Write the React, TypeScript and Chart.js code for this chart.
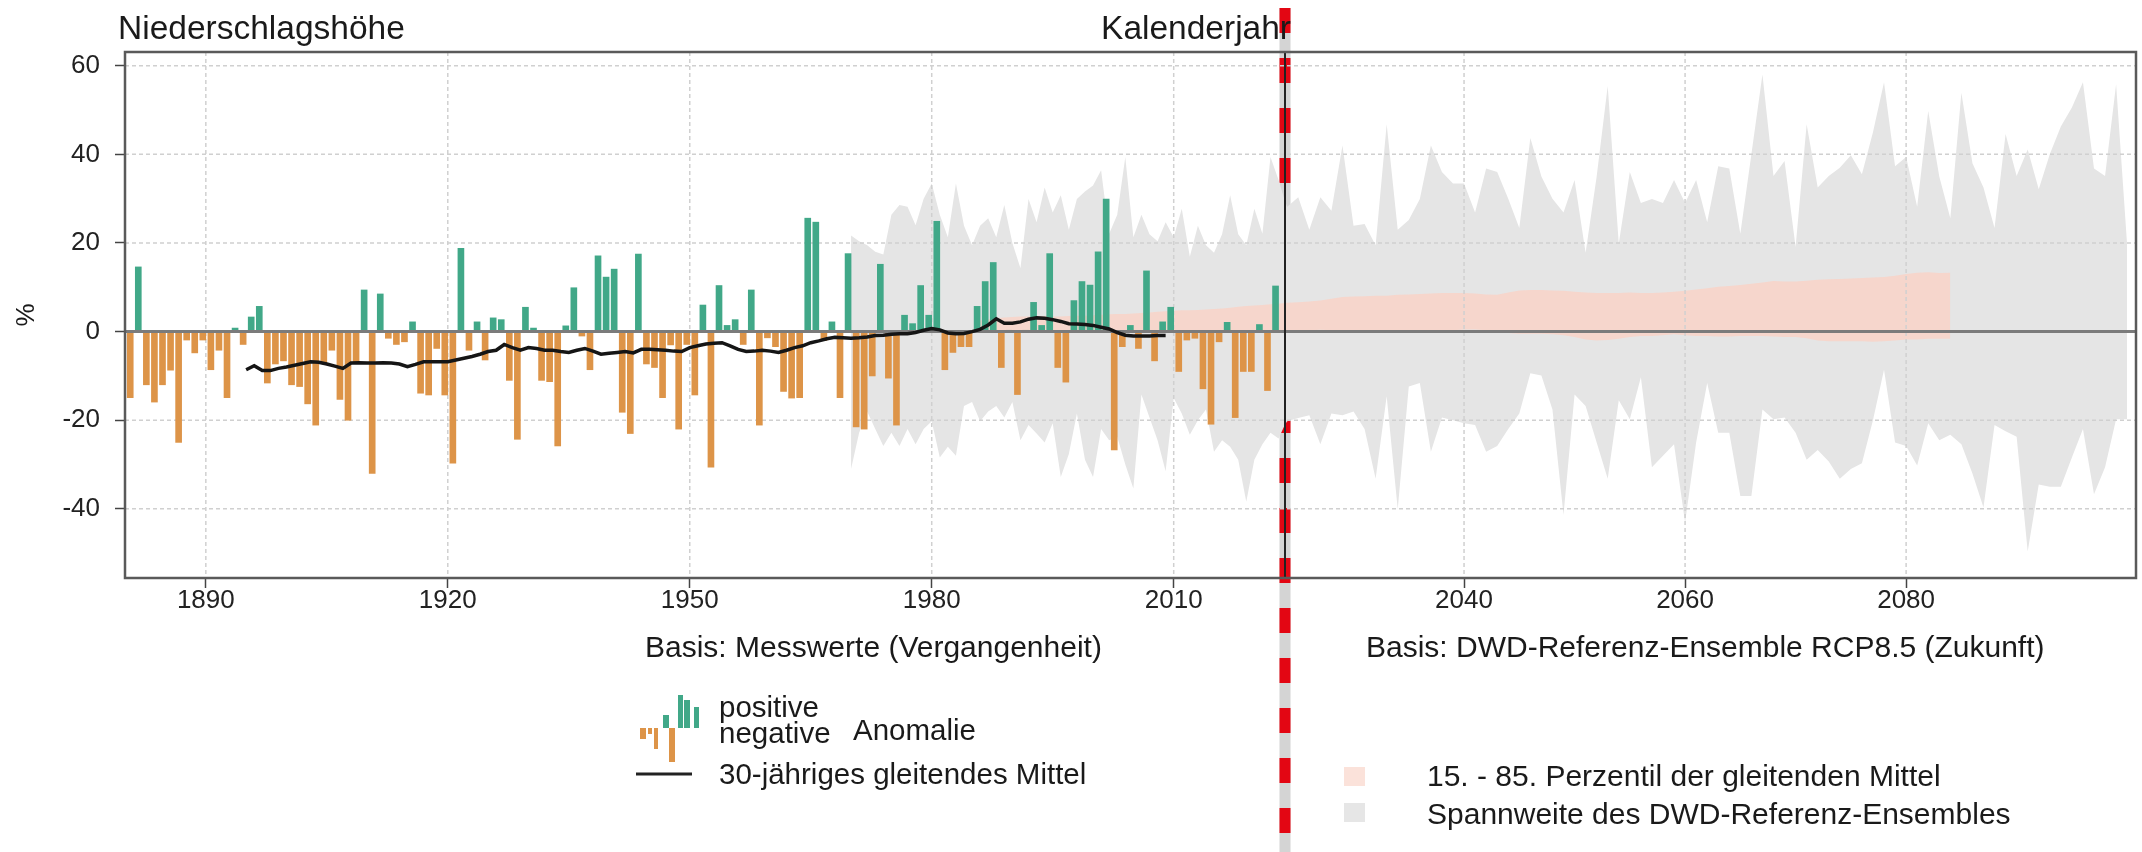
import React, { useEffect, useRef } from 'react';
import { Chart, registerables } from 'chart.js';

Chart.register(...registerables);

const FONT = '"Liberation Sans", Arial, Helvetica, sans-serif';

// ---------- data ----------
const barStartYear = 1881;
const barValues = [
  -14.9, 14.6, -12.0, -15.9, -12.0, -8.7, -25.0, -1.9, -4.8, // 1881-1889
  -1.9, -8.6, -4.2, -14.9, 0.8, -2.9, 3.3, 5.7, -11.6, -7.3, // 1890-1899
  -6.6, -12.0, -12.4, -16.3, -21.1, -7.0, -4.2, -15.3, -20.0, -7.0, // 1900-1909
  9.4, -32.0, 8.5, -1.5, -2.9, -2.3, 2.2, -13.9, -14.3, -3.8, // 1910-1919
  -14.3, -29.7, 18.8, -4.2, 2.2, -6.4, 3.1, 2.7, -11.0, -24.3, // 1920-1929
  5.5, 0.8, -11.0, -11.3, -25.8, 1.3, 9.9, -1.0, -8.6, 17.1, // 1930-1939
  12.3, 14.1, -18.2, -23.0, 17.5, -7.3, -8.1, -14.9, -3.0, -22.0, // 1940-1949
  -2.9, -14.3, 6.0, -30.6, 10.4, 1.4, 2.7, -2.9, 9.4, -21.1, // 1950-1959
  -1.4, -3.4, -13.5, -15.0, -14.9, 25.6, 24.7, -2.0, 2.2, -14.9, // 1960-1969
  17.6, -21.5, -22.0, -10.0, 15.2, -10.5, -21.1, 3.7, 1.8, 10.4, // 1970-1979
  3.7, 24.9, -8.6, -4.7, -3.4, -3.4, 5.7, 11.3, 15.6, -8.1, // 1980-1989
  0.3, -14.2, 0.3, 6.6, 1.4, 17.6, -8.1, -11.4, 7.0, 11.3, // 1990-1999
  10.5, 18.0, 29.9, -26.7, -3.4, 1.4, -3.8, 13.7, -6.6, 2.2, // 2000-2009
  5.5, -9.0, -1.9, -1.5, -12.9, -20.9, -2.3, 2.1, -19.4, -9.0, // 2010-2019
  -9.0, 1.6, -13.3, 10.3, // 2020-2023
];

const maStartYear = 1895;
const maValues = [
  -8.6, -7.7, -8.8, -8.8, -8.3, // 1895-1899
  -8.0, -7.6, -7.2, -6.8, -6.9, -7.3, -7.8, -8.3, -7.1, -7.0, // 1900-1909
  -7.1, -7.1, -7.0, -7.1, -7.3, -7.9, -7.4, -6.8, -6.8, -6.8, // 1910-1919
  -6.8, -6.4, -6.0, -5.6, -5.1, -4.5, -4.2, -2.9, -3.6, -4.2, // 1920-1929
  -3.6, -3.8, -4.2, -4.2, -4.5, -4.7, -4.2, -3.8, -4.4, -5.1, // 1930-1939
  -4.9, -4.7, -4.5, -4.8, -4.0, -4.0, -4.1, -4.2, -4.4, -4.5, // 1940-1949
  -3.6, -3.2, -2.8, -2.6, -2.5, -3.2, -4.0, -4.5, -4.4, -4.2, // 1950-1959
  -4.4, -4.7, -4.2, -3.6, -3.2, -2.5, -2.1, -1.6, -1.3, -1.4, // 1960-1969
  -1.5, -1.4, -1.2, -0.9, -0.8, -0.6, -0.5, -0.5, -0.2, 0.3, // 1970-1979
  0.7, 0.4, -0.3, -0.5, -0.4, 0.0, 0.5, 1.5, 2.9, 1.9, // 1980-1989
  1.9, 2.2, 2.8, 3.1, 3.0, 2.7, 2.3, 1.8, 1.7, 1.6, // 1990-1999
  1.4, 1.0, 0.6, -0.2, -0.8, -1.0, -1.0, -1.0, -0.9, -0.9, // 2000-2009
];

const rangeStartYear = 1970;
const rangeUpper = [
  21.7, 20.4, 19.5, 18.0, 17.4, 26.4, 28.6, 28.2, 24.0, 30.0, // 1970
  33.4, 26.4, 21.3, 33.4, 23.9, 19.5, 23.9, 25.6, 21.3, 28.6, // 1980
  20.0, 14.3, 29.9, 24.7, 32.5, 26.9, 30.8, 23.0, 29.9, 31.6, // 1990
  33.0, 36.4, 22.1, 26.4, 39.4, 21.3, 26.4, 22.0, 20.4, 24.7, // 2000
  21.3, 27.7, 16.9, 23.9, 19.5, 17.8, 22.0, 30.8, 22.0, 19.5, // 2010
  27.7, 22.1, 39.4, 34.2, 28.2, 30.3, 23.0, 30.3, 27.3, 42.0, // 2020
  23.9, 24.3, 19.5, 46.8, 23.0, 25.2, 29.9, 42.0, 36.0, 33.4, // 2030
  33.4, 26.9, 36.8, 36.0, 30.0, 23.4, 43.7, 35.0, 30.0, 26.9, // 2040
  34.2, 17.8, 35.0, 55.4, 19.9, 36.0, 29.0, 29.9, 29.0, 34.2, // 2050
  29.0, 34.2, 24.7, 37.3, 36.8, 22.1, 40.0, 58.0, 35.1, 38.5, // 2060
  19.1, 46.8, 32.5, 35.1, 37.0, 39.8, 35.5, 45.0, 56.3, 37.3, // 2070
  39.4, 28.2, 49.8, 35.0, 25.6, 53.9, 38.0, 32.5, 23.4, 44.6, // 2080
  35.1, 41.1, 32.1, 40.0, 46.3, 50.6, 56.3, 36.8, 35.1, 55.8, // 2090
  19.5, // 2100
];
const rangeLower = [
  -31.0, -22.8, -18.0, -22.0, -25.8, -22.8, -25.8, -22.0, -25.4, -22.0, // 1970
  -20.2, -28.4, -26.0, -28.0, -16.8, -15.9, -20.2, -18.0, -16.8, -19.4, // 1980
  -15.9, -24.5, -21.1, -23.0, -25.0, -20.7, -32.8, -27.6, -18.5, -28.9, // 1990
  -32.8, -22.0, -24.5, -23.7, -30.0, -35.4, -14.2, -19.4, -24.5, -31.5, // 2000
  -15.0, -18.5, -23.3, -20.0, -17.6, -27.1, -24.5, -26.0, -28.9, -38.4, // 2010
  -28.9, -25.4, -22.8, -24.1, -20.2, -19.5, -18.9, -25.4, -18.5, -18.9, // 2020
  -18.0, -22.0, -33.2, -14.6, -40.1, -12.4, -11.6, -27.1, -19.4, -20.0, // 2030
  -20.7, -21.1, -27.1, -25.8, -22.0, -18.5, -9.4, -9.9, -17.6, -41.4, // 2040
  -14.2, -16.8, -25.0, -33.2, -15.5, -19.8, -10.3, -30.6, -28.0, -25.4, // 2050
  -43.1, -25.0, -11.6, -22.8, -22.8, -37.1, -37.1, -17.6, -19.8, -19.4, // 2060
  -22.8, -28.9, -26.7, -29.3, -33.2, -31.0, -29.7, -20.0, -8.6, -25.0, // 2070
  -25.8, -30.2, -20.7, -24.5, -23.3, -25.4, -32.0, -39.7, -21.1, -22.5, // 2080
  -23.7, -49.6, -34.5, -35.0, -35.0, -28.4, -22.0, -36.7, -30.6, -19.8, // 2090
  -19.8, // 2100
];

const pctStartYear = 1986;
const pctUpper = [
  2.5, 2.8, 3.0, 3.2, 3.3, 3.4, 3.4, 3.5, 3.5, 3.4, // 1986
  3.4, 3.5, 3.6, 3.6, 3.7, 3.8, 3.9, 4.0, 4.0, 4.1, // 1996
  4.2, 4.3, 4.5, 4.6, 4.7, 4.8, 4.8, 4.9, 5.0, 5.1, // 2006
  5.2, 5.4, 5.6, 5.8, 5.9, 6.0, 6.2, 6.3, 6.5, 6.6, // 2016
  6.8, 7.0, 7.4, 7.8, 7.9, 8.0, 8.1, 8.1, 8.3, 8.4, // 2026
  8.5, 8.6, 8.7, 8.7, 8.7, 8.6, 8.4, 8.3, 8.8, 9.3, // 2036
  9.4, 9.4, 9.3, 9.2, 9.0, 8.8, 8.7, 8.7, 8.7, 8.8, // 2046
  8.7, 8.7, 8.8, 9.0, 9.2, 9.5, 9.8, 10.1, 10.3, 10.5, // 2056
  10.8, 11.1, 11.4, 11.3, 11.3, 11.5, 11.7, 11.8, 11.9, 12.0, // 2066
  12.1, 12.2, 12.3, 12.6, 13.0, 13.3, 13.4, 13.2, 13.3, // 2076-2084
];
const pctLower = [
  0.5, 0.3, 0.2, 0.1, 0.0, 0.0, 0.0, 0.0, 0.0, 0.0, // 1986
  0.0, 0.0, 0.0, 0.0, 0.0, 0.0, 0.0, 0.0, 0.0, 0.0, // 1996
  0.0, 0.0, 0.0, 0.0, 0.0, 0.0, 0.0, 0.0, 0.0, 0.0, // 2006
  0.0, 0.0, 0.0, 0.0, 0.0, 0.0, 0.0, 0.0, 0.2, 0.3, // 2016
  0.3, 0.4, 0.3, 0.2, 0.2, 0.2, 0.1, 0.0, 0.0, 0.0, // 2026
  0.0, 0.0, 0.0, 0.3, 0.5, 0.5, 0.3, 0.0, -0.3, -0.5, // 2036
  -0.5, -0.5, -0.6, -0.8, -1.2, -1.8, -2.0, -1.9, -1.6, -1.2, // 2046
  -1.0, -1.0, -0.8, -0.6, -0.8, -1.0, -1.0, -1.1, -1.1, -1.0, // 2056
  -1.0, -1.0, -1.1, -1.2, -1.2, -1.5, -2.0, -2.2, -2.2, -2.2, // 2066
  -2.2, -2.3, -2.2, -2.0, -1.8, -1.8, -1.6, -1.6, -1.6, // 2076-2084
];

const pastTicks = [1890, 1920, 1950, 1980, 2010];
const futureTicks = [2040, 2060, 2080];
const yTicks = [-40, -20, 0, 20, 40, 60];
const pastMin = 1879.98;
const boundaryYear = 2023.8;
const futureMax = 2100.8;
const yMin = -55.6;
const yMax = 63.1;

// ---------- styles ----------
const GREEN = '#41a888';
const ORANGE = '#dd9448';
const GRAY_BAND = '#e5e5e5';
const PINK_BAND = '#f6d6cc';
const TEXT = '#1a1a1a';

type P = { x: number; y: number };
const series = (start: number, vals: number[], from: number, to: number): P[] =>
  vals.map((v, i) => ({ x: start + i, y: v })).filter((p) => p.x >= from && p.x <= to);

const band = (data: P[], xAxisID: string, color: string, fill: any, order: number) => ({
  type: 'line' as const,
  data,
  xAxisID,
  yAxisID: 'y',
  borderWidth: 0,
  borderColor: color,
  backgroundColor: color,
  pointRadius: 0,
  pointHoverRadius: 0,
  tension: 0,
  fill,
  order,
});

function txt(ctx: CanvasRenderingContext2D, s: string, x: number, y: number, size: number, align: CanvasTextAlign = 'left') {
  ctx.font = `${size}px ${FONT}`;
  ctx.textAlign = align;
  ctx.textBaseline = 'alphabetic';
  ctx.fillStyle = TEXT;
  ctx.fillText(s, x, y);
}

const decor = {
  id: 'decor',
  beforeDatasetsDraw(chart: any) {
    const ctx: CanvasRenderingContext2D = chart.ctx;
    const x = chart.scales.xPast.getPixelForValue(boundaryYear);
    ctx.save();
    ctx.lineWidth = 11;
    ctx.strokeStyle = '#d4d4d4';
    ctx.beginPath();
    ctx.moveTo(x, 8);
    ctx.lineTo(x, 852);
    ctx.stroke();
    ctx.strokeStyle = '#e30613';
    ctx.setLineDash([25, 25]);
    ctx.beginPath();
    ctx.moveTo(x, 8);
    ctx.lineTo(x, 852);
    ctx.stroke();
    ctx.restore();
  },
  beforeDatasetDraw(chart: any, args: any) {
    if (args.meta.type !== 'bar') return;
    const ctx: CanvasRenderingContext2D = chart.ctx;
    const a = chart.chartArea;
    const s = chart.scales;
    ctx.save();
    ctx.strokeStyle = '#d0d0d0';
    ctx.lineWidth = 1.5;
    ctx.setLineDash([4, 3]);
    ctx.beginPath();
    for (const v of yTicks) {
      const y = s.y.getPixelForValue(v);
      ctx.moveTo(a.left, y);
      ctx.lineTo(a.right, y);
    }
    for (const v of pastTicks) {
      const x = s.xPast.getPixelForValue(v);
      ctx.moveTo(x, a.top);
      ctx.lineTo(x, a.bottom);
    }
    for (const v of futureTicks) {
      const x = s.xFuture.getPixelForValue(v);
      ctx.moveTo(x, a.top);
      ctx.lineTo(x, a.bottom);
    }
    ctx.stroke();
    ctx.restore();
  },
  afterDatasetDraw(chart: any, args: any) {
    if (args.meta.type !== 'bar') return;
    const ctx: CanvasRenderingContext2D = chart.ctx;
    const a = chart.chartArea;
    const y0 = chart.scales.y.getPixelForValue(0);
    ctx.save();
    ctx.strokeStyle = '#7b7b7b';
    ctx.lineWidth = 3;
    ctx.beginPath();
    ctx.moveTo(a.left, y0);
    ctx.lineTo(a.right, y0);
    ctx.stroke();
    ctx.restore();
  },
  afterDraw(chart: any) {
    const ctx: CanvasRenderingContext2D = chart.ctx;
    const a = chart.chartArea;
    const sep = chart.scales.xPast.getPixelForValue(boundaryYear);
    ctx.save();
    // separator
    ctx.strokeStyle = '#222';
    ctx.lineWidth = 2;
    ctx.beginPath();
    ctx.moveTo(sep, a.top);
    ctx.lineTo(sep, a.bottom);
    ctx.stroke();
    // frame
    ctx.strokeStyle = '#5a5a5a';
    ctx.lineWidth = 2.5;
    ctx.strokeRect(a.left, a.top, a.right - a.left, a.bottom - a.top);

    // titles
    txt(ctx, 'Niederschlagshöhe', 118, 39, 33.5);
    txt(ctx, 'Kalenderjahr', sep + 6, 39, 33.5, 'right');
    ctx.save();
    ctx.translate(34, 315);
    ctx.rotate(-Math.PI / 2);
    txt(ctx, '%', 0, 0, 26, 'center');
    ctx.restore();

    txt(ctx, 'Basis: Messwerte (Vergangenheit)', 645, 657, 30);
    txt(ctx, 'Basis: DWD-Referenz-Ensemble RCP8.5 (Zukunft)', 1366, 657, 30);

    // anomaly legend icon
    const base = 728;
    ctx.fillStyle = ORANGE;
    ctx.fillRect(640, base, 6, 11);
    ctx.fillRect(648, base, 4, 6);
    ctx.fillRect(654, base, 4, 21);
    ctx.fillRect(669, base, 6, 34);
    ctx.fillStyle = GREEN;
    ctx.fillRect(663, base - 13, 6, 13);
    ctx.fillRect(678, base - 33, 5, 33);
    ctx.fillRect(684, base - 28, 6, 28);
    ctx.fillRect(694, base - 21, 5, 21);
    txt(ctx, 'positive', 719, 717, 29.5);
    txt(ctx, 'negative', 719, 743, 29.5);
    txt(ctx, 'Anomalie', 853, 740, 29.5);

    ctx.strokeStyle = '#222';
    ctx.lineWidth = 3;
    ctx.beginPath();
    ctx.moveTo(636, 774);
    ctx.lineTo(692, 774);
    ctx.stroke();
    txt(ctx, '30-jähriges gleitendes Mittel', 719, 784, 29.5);

    ctx.fillStyle = '#fbe2da';
    ctx.fillRect(1344, 767, 21, 19);
    ctx.fillStyle = '#e6e6e6';
    ctx.fillRect(1344, 803, 21, 19);
    txt(ctx, '15. - 85. Perzentil der gleitenden Mittel', 1427, 786, 30);
    txt(ctx, 'Spannweite des DWD-Referenz-Ensembles', 1427, 824, 30);
    ctx.restore();
  },
};

const tickFont = { family: FONT, size: 26 };

export default function App() {
  const ref = useRef<HTMLCanvasElement>(null);
  useEffect(() => {
    document.body.style.margin = '0';
    const barPoints = barValues.map((v, i) => ({ x: barStartYear + i, y: v }));
    const maPoints = maValues.map((v, i) => ({ x: maStartYear + i, y: v }));
    const datasets: any[] = [
      band(series(rangeStartYear, rangeLower, 1970, 2024), 'xPast', GRAY_BAND, false, 10),
      band(series(rangeStartYear, rangeUpper, 1970, 2024), 'xPast', GRAY_BAND, '-1', 10),
      band(series(rangeStartYear, rangeLower, 2023, 2100), 'xFuture', GRAY_BAND, false, 10),
      band(series(rangeStartYear, rangeUpper, 2023, 2100), 'xFuture', GRAY_BAND, '-1', 10),
      band(series(pctStartYear, pctLower, 1986, 2024), 'xPast', PINK_BAND, false, 9),
      band(series(pctStartYear, pctUpper, 1986, 2024), 'xPast', PINK_BAND, '-1', 9),
      band(series(pctStartYear, pctLower, 2023, 2084), 'xFuture', PINK_BAND, false, 9),
      band(series(pctStartYear, pctUpper, 2023, 2084), 'xFuture', PINK_BAND, '-1', 9),
      {
        type: 'bar',
        data: barPoints,
        xAxisID: 'xPast',
        yAxisID: 'y',
        backgroundColor: barValues.map((v) => (v >= 0 ? GREEN : ORANGE)),
        borderWidth: 0,
        barThickness: 6,
        order: 5,
      },
      {
        type: 'line',
        data: maPoints,
        xAxisID: 'xPast',
        yAxisID: 'y',
        borderColor: '#151515',
        borderWidth: 3.5,
        pointRadius: 0,
        fill: false,
        tension: 0,
        order: 1,
      },
    ];

    const xCommon = (ticks: number[], weight: number, min: number, max: number) => ({
      type: 'linear' as const,
      axis: 'x' as const,
      position: 'bottom' as const,
      stack: 'xs',
      stackWeight: weight,
      min,
      max,
      offset: false,
      afterBuildTicks: (s: any) => {
        s.ticks = ticks.map((v) => ({ value: v }));
      },
      afterFit: (s: any) => {
        s.height = 274;
      },
      grid: {
        display: true,
        drawOnChartArea: false,
        drawTicks: true,
        tickLength: 10,
        tickColor: '#444',
        tickWidth: 1.5,
        offset: false,
      },
      border: { display: false },
      ticks: {
        autoSkip: false,
        maxRotation: 0,
        minRotation: 0,
        font: tickFont,
        color: '#222',
        padding: -3,
        callback: (v: any) => String(v),
      },
    });

    const chart = new Chart(ref.current as HTMLCanvasElement, {
      type: 'line',
      data: { datasets },
      options: {
        responsive: false,
        animation: false,
        events: [],
        layout: { padding: { top: 52, right: 6, left: 0, bottom: 0 } },
        plugins: {
          legend: { display: false },
          tooltip: { enabled: false },
        },
        scales: {
          xPast: xCommon(pastTicks, 1160, pastMin, boundaryYear),
          xFuture: xCommon(futureTicks, 851, boundaryYear, futureMax),
          y: {
            type: 'linear',
            position: 'left',
            min: yMin,
            max: yMax,
            afterBuildTicks: (s: any) => {
              s.ticks = yTicks.map((v) => ({ value: v }));
            },
            afterFit: (s: any) => {
              s.width = 125;
            },
            grid: {
              display: true,
              drawOnChartArea: false,
              drawTicks: true,
              tickLength: 10,
              tickColor: '#444',
              tickWidth: 1.5,
            },
            border: { display: false },
            ticks: {
              font: tickFont,
              color: '#222',
              padding: 15,
              callback: (v: any) => String(v),
            },
          },
        },
      } as any,
      plugins: [decor],
    });
    return () => chart.destroy();
  }, []);

  return (
    <div style={{ position: 'absolute', left: 0, top: 0, width: 2142, height: 852, background: '#fff' }}>
      <canvas ref={ref} width={2142} height={852} style={{ width: 2142, height: 852, display: 'block' }} />
    </div>
  );
}
